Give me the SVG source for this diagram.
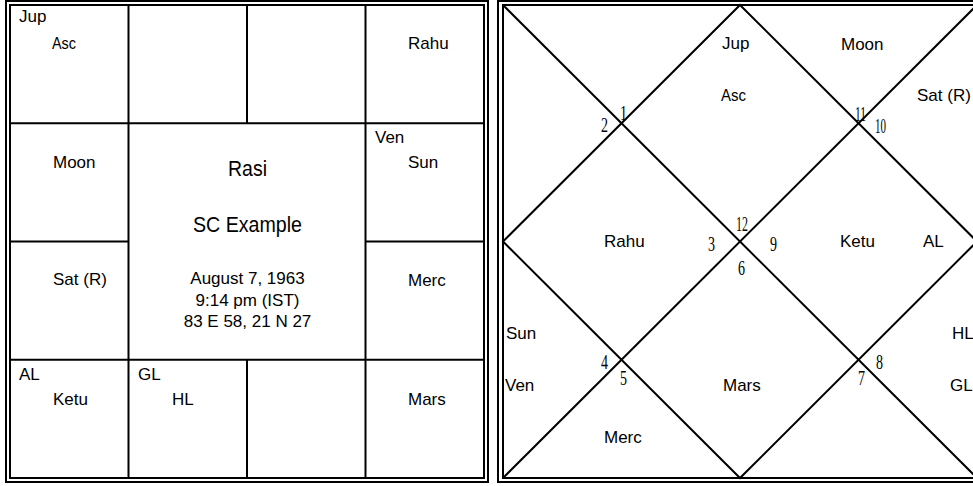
<svg xmlns="http://www.w3.org/2000/svg" width="973" height="486" viewBox="0 0 973 486">
<style>
.ln{stroke:#000;stroke-width:2;fill:none}
.t{font-family:"Liberation Sans",Arial,sans-serif;font-size:17px;fill:#000}
.n{font-family:"Liberation Serif","Times New Roman",serif;font-size:20px;fill:#000}
.c{font-family:"Liberation Sans",Arial,sans-serif;fill:#000;text-anchor:middle}
</style>
<rect width="973" height="486" fill="#fff"/>

<g id="rasi-frame">
<rect class="ln" x="6" y="1" width="482" height="481"/>
<rect class="ln" x="10" y="5" width="474" height="473"/>
</g>
<g id="rasi-grid">
<line class="ln" x1="128.5" y1="5" x2="128.5" y2="478"/>
<line class="ln" x1="365.5" y1="5" x2="365.5" y2="478"/>
<line class="ln" x1="247" y1="5" x2="247" y2="123.25"/>
<line class="ln" x1="247" y1="359.75" x2="247" y2="478"/>
<line class="ln" x1="10" y1="123.25" x2="484" y2="123.25"/>
<line class="ln" x1="10" y1="359.75" x2="484" y2="359.75"/>
<line class="ln" x1="10" y1="241.5" x2="128.5" y2="241.5"/>
<line class="ln" x1="365.5" y1="241.5" x2="484" y2="241.5"/>
</g>

<g id="pisces"><text class="t" x="19" y="22">Jup</text><text class="t" x="52" y="49" textLength="24" lengthAdjust="spacingAndGlyphs">Asc</text></g>
<g id="aries"></g>
<g id="taurus"></g>
<g id="gemini"><text class="t" x="408" y="49">Rahu</text></g>
<g id="aquarius"><text class="t" x="53" y="168">Moon</text></g>
<g id="cancer"><text class="t" x="375" y="143">Ven</text><text class="t" x="408" y="168">Sun</text></g>
<g id="capricorn"><text class="t" x="53" y="285">Sat (R)</text></g>
<g id="leo"><text class="t" x="408" y="286">Merc</text></g>
<g id="sagittarius"><text class="t" x="19" y="380">AL</text><text class="t" x="53" y="405">Ketu</text></g>
<g id="scorpio"><text class="t" x="138" y="380">GL</text><text class="t" x="172" y="405">HL</text></g>
<g id="libra"></g>
<g id="virgo"><text class="t" x="408" y="405">Mars</text></g>

<g id="rasi-centre">
<text class="c" x="247.5" y="176" font-size="22" textLength="39" lengthAdjust="spacingAndGlyphs">Rasi</text>
<text class="c" x="247.5" y="232" font-size="22" textLength="109" lengthAdjust="spacingAndGlyphs">SC Example</text>
<text class="c" x="247.5" y="284" font-size="17">August 7, 1963</text>
<text class="c" x="247.5" y="306" font-size="17">9:14 pm (IST)</text>
<text class="c" x="247.5" y="327" font-size="17">83 E 58, 21 N 27</text>
</g>

<g id="bhava-frame">
<rect class="ln" x="498" y="1" width="500" height="481"/>
<rect class="ln" x="503" y="5" width="474" height="473"/>
</g>
<g id="bhava-lines">
<line class="ln" x1="503" y1="5" x2="977" y2="478"/>
<line class="ln" x1="977" y1="5" x2="503" y2="478"/>
<polygon class="ln" points="740,5 977,241.5 740,478 503,241.5"/>
</g>

<g id="house-1"><text class="t" x="722" y="49">Jup</text><text class="t" x="721" y="101" textLength="25" lengthAdjust="spacingAndGlyphs">Asc</text><text class="n" x="736" y="231" textLength="12" lengthAdjust="spacingAndGlyphs">12</text></g>
<g id="house-2"><text class="n" x="620" y="120" textLength="7" lengthAdjust="spacingAndGlyphs">1</text></g>
<g id="house-3"><text class="n" x="601" y="132" textLength="7" lengthAdjust="spacingAndGlyphs">2</text></g>
<g id="house-4"><text class="t" x="604" y="247">Rahu</text><text class="n" x="708" y="251" textLength="7" lengthAdjust="spacingAndGlyphs">3</text></g>
<g id="house-5"><text class="t" x="506" y="339">Sun</text><text class="t" x="505" y="391">Ven</text><text class="n" x="601" y="369" textLength="7" lengthAdjust="spacingAndGlyphs">4</text></g>
<g id="house-6"><text class="t" x="604" y="443">Merc</text><text class="n" x="620" y="385" textLength="7" lengthAdjust="spacingAndGlyphs">5</text></g>
<g id="house-7"><text class="t" x="723" y="391">Mars</text><text class="n" x="738" y="275" textLength="7" lengthAdjust="spacingAndGlyphs">6</text></g>
<g id="house-8"><text class="n" x="858" y="385" textLength="7" lengthAdjust="spacingAndGlyphs">7</text></g>
<g id="house-9"><text class="t" x="952" y="339">HL</text><text class="t" x="950" y="391">GL</text><text class="n" x="876" y="369" textLength="7" lengthAdjust="spacingAndGlyphs">8</text></g>
<g id="house-10"><text class="t" x="840" y="247">Ketu</text><text class="t" x="923" y="247">AL</text><text class="n" x="770" y="251" textLength="7" lengthAdjust="spacingAndGlyphs">9</text></g>
<g id="house-11"><text class="t" x="917" y="101">Sat (R)</text><text class="n" x="875" y="133" textLength="11" lengthAdjust="spacingAndGlyphs">10</text></g>
<g id="house-12"><text class="t" x="841" y="50">Moon</text><text class="n" x="855" y="121" textLength="11" lengthAdjust="spacingAndGlyphs">11</text></g>
</svg>
